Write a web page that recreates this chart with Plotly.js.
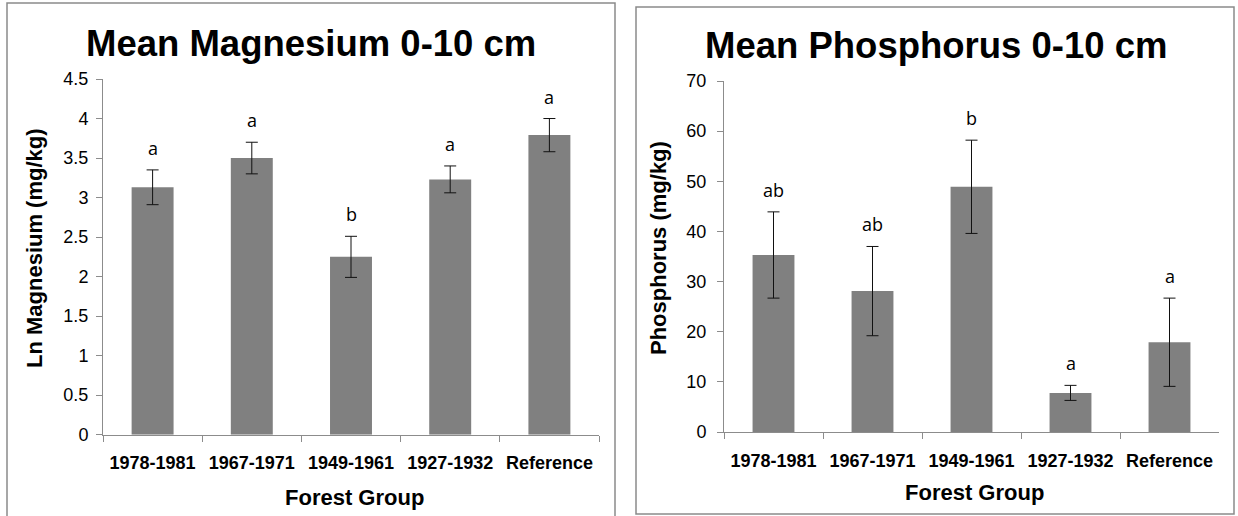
<!DOCTYPE html>
<html>
<head>
<meta charset="utf-8">
<script src="https://cdn.plot.ly/plotly-3.0.1.min.js"></script>
<style>
  html, body { margin: 0; padding: 0; background: #ffffff; }
  #chart { width: 1238px; height: 516px; }
</style>
</head>
<body>
<div id="chart"></div>
<script>
// ---- data ----
var categories = ['1978-1981', '1967-1971', '1949-1961', '1927-1932', 'Reference'];

var mgMean    = [3.13, 3.50, 2.25, 3.23, 3.79];
var mgErr     = [0.22, 0.20, 0.26, 0.17, 0.21];
var mgLetters = ['a', 'a', 'b', 'a', 'a'];

var pMean     = [35.3, 28.1, 48.9, 7.8, 17.9];
var pErr      = [8.6, 8.9, 9.3, 1.5, 8.8];
var pLetters  = ['ab', 'ab', 'b', 'a', 'a'];

var mgTicks = [0, 0.5, 1, 1.5, 2, 2.5, 3, 3.5, 4, 4.5];
var pTicks  = [0, 10, 20, 30, 40, 50, 60, 70];

// ---- styling ----
var W = 1238, H = 516;
var BAR = '#808080';
var AXIS = '#8c8c8c';
var SANS = 'Liberation Sans, Arial, sans-serif';
var LETTER_FONT = 'Open Sans, sans-serif';

function px(x) { return x / W; }
function py(y) { return 1 - y / H; }

function barTrace(vals, errs, xa, ya) {
  return {
    type: 'bar', x: categories, y: vals, xaxis: xa, yaxis: ya,
    marker: { color: BAR, line: { width: 0 } },
    error_y: { type: 'data', array: errs, visible: true, color: '#111111', thickness: 1, width: 6 },
    hoverinfo: 'skip'
  };
}

var data = [
  barTrace(mgMean, mgErr, 'x', 'y'),
  barTrace(pMean, pErr, 'x2', 'y2')
];

function xAxis(domain, anchor, standoff) {
  return {
    domain: domain, anchor: anchor, type: 'category',
    showline: true, linecolor: AXIS, linewidth: 1,
    ticks: 'outside', tickson: 'boundaries', ticklen: 6, tickcolor: AXIS, tickwidth: 1,
    showgrid: false, zeroline: false, fixedrange: true,
    tickfont: { family: SANS, size: 18, color: '#000', weight: 'bold' },
    ticklabelstandoff: standoff
  };
}
function yAxis(domain, anchor, range, ticks, standoff) {
  return {
    domain: domain, anchor: anchor, range: range,
    tickmode: 'array', tickvals: ticks, ticktext: ticks.map(String),
    showline: true, linecolor: AXIS, linewidth: 1,
    ticks: 'outside', ticklen: 6, tickcolor: AXIS, tickwidth: 1,
    showgrid: false, zeroline: false, fixedrange: true,
    tickfont: { family: SANS, size: 18, color: '#000' },
    ticklabelstandoff: standoff
  };
}

var annotations = [];
function addText(text, x, y, size, bold, angle) {
  annotations.push({
    text: text, xref: 'paper', yref: 'paper', x: px(x), y: py(y),
    xanchor: 'center', yanchor: 'middle', showarrow: false, textangle: angle || 0,
    font: { family: SANS, size: size, color: '#000', weight: bold ? 'bold' : 'normal' }
  });
}
// chart titles
addText('Mean Magnesium 0-10 cm', 311, 43, 36.5, true);
addText('Mean Phosphorus 0-10 cm', 936, 45, 36.5, true);
// axis titles
addText('Ln Magnesium (mg/kg)', 35, 248, 22, true, -90);
addText('Phosphorus (mg/kg)', 659, 248, 22, true, -90);
addText('Forest Group', 354, 497, 22, true);
addText('Forest Group', 974, 492, 22, true);

// significance letters above error bars
function addLetters(letters, vals, errs, xa, ya) {
  for (var i = 0; i < letters.length; i++) {
    annotations.push({
      text: letters[i], xref: xa, yref: ya, x: categories[i], y: vals[i] + errs[i],
      xanchor: 'center', yanchor: 'bottom', yshift: 8, showarrow: false,
      font: { family: LETTER_FONT, size: 18, color: '#000' }
    });
  }
}
addLetters(mgLetters, mgMean, mgErr, 'x', 'y');
addLetters(pLetters, pMean, pErr, 'x2', 'y2');

var shapes = [
  { type: 'rect', xref: 'paper', yref: 'paper', x0: px(7), x1: px(615), y0: py(3), y1: py(530),
    line: { color: '#8a8a8a', width: 1.5 }, fillcolor: 'rgba(0,0,0,0)' },
  { type: 'rect', xref: 'paper', yref: 'paper', x0: px(636), x1: px(1234), y0: py(7), y1: py(514),
    line: { color: '#8a8a8a', width: 1.5 }, fillcolor: 'rgba(0,0,0,0)' }
];

var layout = {
  width: W, height: H,
  margin: { l: 0, r: 0, t: 0, b: 0, pad: 0 },
  paper_bgcolor: '#ffffff', plot_bgcolor: 'rgba(0,0,0,0)',
  showlegend: false, bargap: 0.577,
  xaxis:  xAxis([px(103), px(599)], 'y', 12),
  yaxis:  yAxis([py(434.7), py(79)], 'x', [0, 4.5], mgTicks, 4),
  xaxis2: xAxis([px(724), px(1219)], 'y2', 12),
  yaxis2: yAxis([py(432), py(81)], 'x2', [0, 70], pTicks, 7),
  annotations: annotations,
  shapes: shapes
};

Plotly.newPlot('chart', data, layout, { staticPlot: true, displayModeBar: false });
</script>
</body>
</html>
